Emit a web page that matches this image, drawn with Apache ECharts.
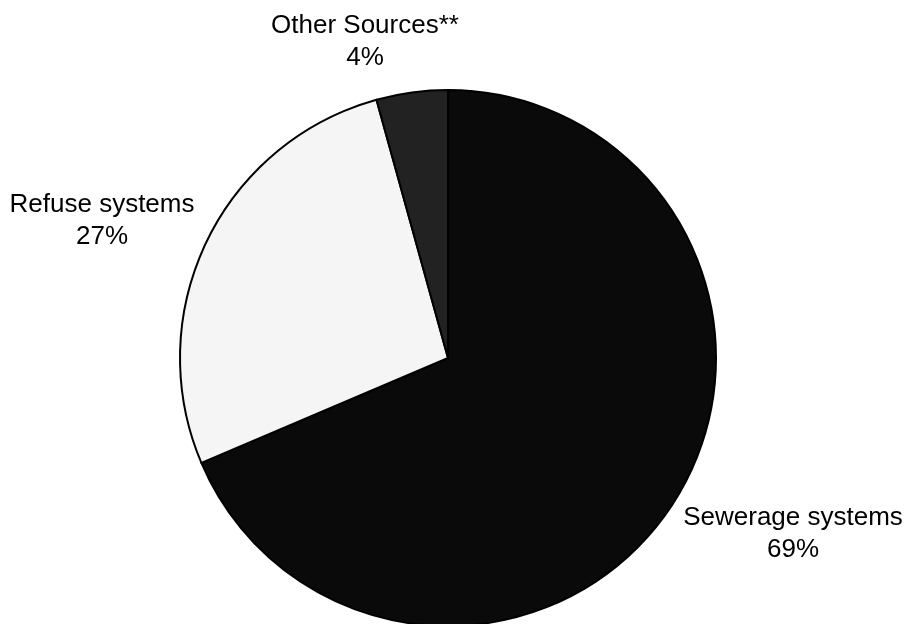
<!DOCTYPE html>
<html>
<head>
<meta charset="utf-8">
<script src="https://cdn.jsdelivr.net/npm/echarts@6/dist/echarts.min.js"></script>
<style>
html,body{margin:0;padding:0;background:#fff;}
#chart{width:907px;height:624px;}
</style>
</head>
<body>
<div id="chart"></div>
<script>
const categories = ['Sewerage systems', 'Refuse systems', 'Other Sources**'];
const values = [68.6, 27.1, 4.3];
const sliceColors = ['#0a0a0a', '#f5f5f5', '#222222'];

// label centre positions (layout only)
const labelPos = [[793, 534], [102, 221], [365, 42]];

const chart = echarts.init(document.getElementById('chart'), null, {renderer: 'canvas'});
const total = values.reduce((a, b) => a + b, 0);

chart.setOption({
  animation: false,
  backgroundColor: '#ffffff',
  series: [{
    type: 'pie',
    center: [448, 358],
    radius: 268,
    startAngle: 90,
    clockwise: true,
    avoidLabelOverlap: false,
    data: categories.map((name, i) => ({
      name: name,
      value: values[i],
      itemStyle: {color: sliceColors[i]}
    })),
    itemStyle: {borderColor: '#000', borderWidth: 2},
    label: {
      show: true,
      position: 'outside',
      formatter: p => p.name + '\n' + Math.round(p.value / total * 100) + '%',
      fontFamily: '"Liberation Sans", Arial, sans-serif',
      fontSize: 26,
      lineHeight: 32,
      color: '#000',
      align: 'center'
    },
    labelLine: {show: false},
    labelLayout: function (params) {
      const p = labelPos[params.dataIndex];
      return {
        x: p[0],
        y: p[1],
        align: 'center',
        verticalAlign: 'middle'
      };
    },
    emphasis: {disabled: true}
  }]
});
</script>
</body>
</html>
